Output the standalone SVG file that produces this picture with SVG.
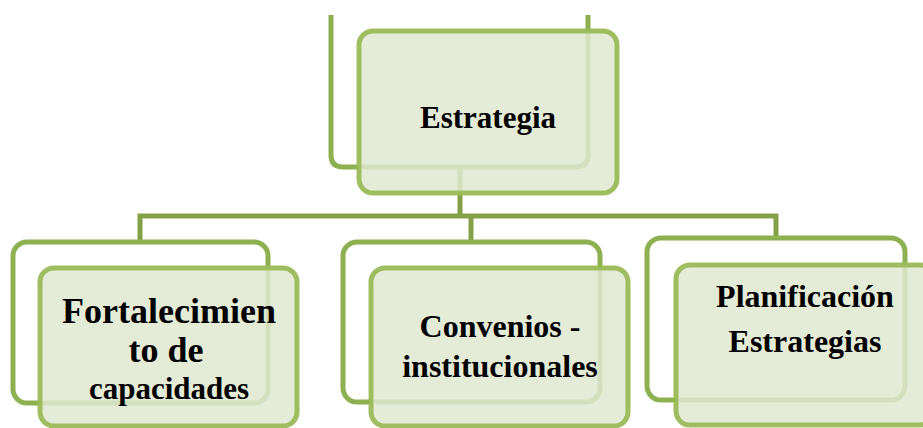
<svg xmlns="http://www.w3.org/2000/svg" width="923" height="428" viewBox="0 0 923 428">
  <style>
    .back { fill: none; stroke: #8db050; stroke-width: 5; }
    .front { fill: #dfe8cf; fill-opacity: 0.86; stroke: #9bbb59; stroke-opacity: 0.95; stroke-width: 5; }
    .conn { fill: none; stroke: #84a148; stroke-width: 5; }
    text { font-family: 'Liberation Serif', 'DejaVu Serif', serif; font-weight: bold; fill: #000; text-anchor: middle; }
  </style>
  <rect width="923" height="428" fill="#ffffff"/>
  <g id="connectors">
    <path class="conn" d="M460,167 V216"/>
    <path class="conn" d="M140,242 V216 H776 V238"/>
    <path class="conn" d="M471,216 V242"/>
  </g>
  <g id="node-estrategia">
    <path class="back" d="M331,15 V155 Q331,167 343,167 H576 Q588,167 588,155 V15"/>
    <rect class="front" x="359" y="31" width="258" height="162" rx="14"/>
    <text x="488" y="128" font-size="31" font-family="Liberation Serif">Estrategia</text>
  </g>
  <g id="node-fortalecimiento">
    <rect class="back" x="13" y="242" width="255" height="161" rx="14"/>
    <rect class="front" x="40" y="268" width="257" height="158" rx="14"/>
    <text x="169" y="323" font-size="36" font-family="Liberation Serif">Fortalecimien</text>
    <text x="166" y="362" font-size="36" font-family="Liberation Serif">to de</text>
    <text x="169" y="399" font-size="31" font-family="Liberation Serif">capacidades</text>
  </g>
  <g id="node-convenios">
    <rect class="back" x="343" y="242" width="257" height="160" rx="14"/>
    <rect class="front" x="371" y="268" width="257" height="158" rx="14"/>
    <text x="500" y="337" font-size="32" font-family="Liberation Serif">Convenios -</text>
    <text x="500" y="377" font-size="32" font-family="Liberation Serif">institucionales</text>
  </g>
  <g id="node-planificacion">
    <rect class="back" x="647" y="238" width="258" height="162" rx="14"/>
    <rect class="front" x="676" y="265" width="258" height="160" rx="14"/>
    <text x="805" y="307" font-size="32" font-family="Liberation Serif">Planificación</text>
    <text x="805" y="352" font-size="32" font-family="Liberation Serif">Estrategias</text>
  </g>
</svg>
